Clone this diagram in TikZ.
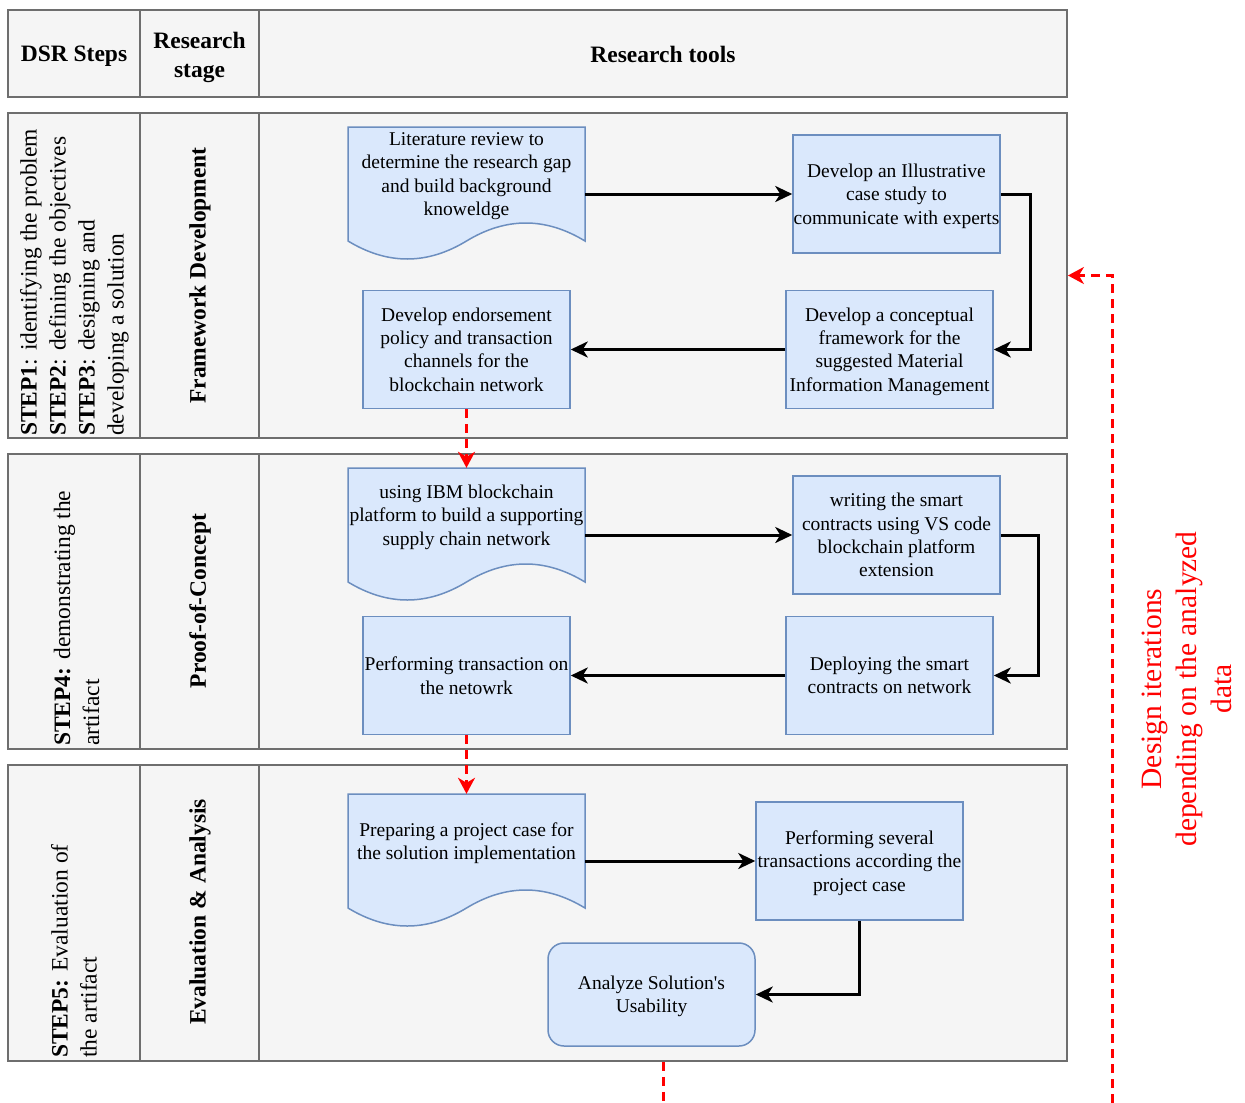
\documentclass[tikz,border=0pt]{standalone}
\usepackage{fontspec}
\setmainfont{Liberation Serif}
\usetikzlibrary{arrows.meta}

\definecolor{boxfill}{RGB}{218,232,252}
\definecolor{boxline}{RGB}{108,142,191}
\definecolor{rowfill}{RGB}{245,245,245}
\definecolor{rowline}{RGB}{110,110,110}
\definecolor{loopred}{RGB}{255,0,0}

% document-shaped process box: #1 name, #2 left, #3 top, #4 label
\newcommand\docbox[4]{%
  \begin{scope}[shift={(#2,#3)}]
    \path[procbox] (0,0) -- (237,0) -- (237,114)
      .. controls (197.5,90) and (158,90) .. (118.5,114)
      .. controls (79,138) and (39.5,138) .. (0,114) -- cycle;
    \node[inner sep=0, minimum width=237pt, minimum height=134pt] (#1) at (118.5,67) {};
    \node[boxtext] (#1-label) at (118.5,47) {#4};
  \end{scope}}

\tikzset{
  rowbox/.style={draw=rowline, fill=rowfill, line width=1.8pt, inner sep=0},
  colline/.style={draw=rowline, line width=1.8pt},
  procbox/.style={draw=boxline, fill=boxfill, line width=1.5pt},
  boxtext/.style={align=center, inner sep=0, text depth=0pt,
    font=\fontsize{19.5}{23.3}\selectfont},
  rectbox/.style={procbox, inner sep=0, minimum width=207pt, minimum height=118pt,
    align=center, text depth=0pt, font=\fontsize{19.5}{23.3}\selectfont},
  headtext/.style={align=center, inner sep=0, text depth=0pt,
    font=\fontsize{23.5}{29}\selectfont\bfseries},
  steptext/.style={rotate=90, align=left, inner sep=0, anchor=west,
    font=\fontsize{23.5}{29}\selectfont},
  stagetext/.style={rotate=90, align=center, inner sep=0,
    font=\fontsize{23.5}{29}\selectfont\bfseries},
  flow/.style={line width=3pt, -{Stealth[length=17pt, width=16pt, inset=5pt]}},
  loopline/.style={draw=loopred, line width=3pt, dash pattern=on 9pt off 6pt},
  looparrow/.style={loopline, -{Stealth[length=16pt, width=17pt, inset=5pt]}},
  looptext/.style={rotate=90, align=center, inner sep=0, text=loopred,
    font=\fontsize{29.5}{35}\selectfont},
}

\begin{document}
\begin{tikzpicture}[x=1pt, y=-1pt]
  \useasboundingbox[fill=white] (0,0) rectangle (1245,1103);

  % header row
  \node[rowbox, minimum width=1059pt, minimum height=87pt] (head) at (537.5,53.5) {};
  \draw[colline] (140,10) -- (140,97);
  \draw[colline] (259,10) -- (259,97);
  \node[headtext] (hsteps) at (74,54) {DSR Steps};
  \node[headtext] (hstage) at (199.5,54.5) {Research\\stage};
  \node[headtext] (htools) at (663,54) {Research tools};

  % stage rows
  \node[rowbox, minimum width=1059pt, minimum height=325pt] (row1) at (537.5,275.5) {};
  \node[rowbox, minimum width=1059pt, minimum height=295pt] (row2) at (537.5,601.5) {};
  \node[rowbox, minimum width=1059pt, minimum height=296pt] (row3) at (537.5,913) {};
  \foreach \ya/\yb in {113/438, 454/749, 765/1061} {
    \draw[colline] (140,\ya) -- (140,\yb);
    \draw[colline] (259,\ya) -- (259,\yb);
  }

  % DSR steps
  \node[steptext] (s1) at (74.5,436) {\textbf{STEP1}: identifying the problem\\
    \textbf{STEP2}: defining the objectives\\ \textbf{STEP3}: designing and\\ developing a solution};
  \node[steptext] (s4) at (76.5,746) {\textbf{STEP4:} demonstrating the\\ artifact};
  \node[steptext] (s5) at (74,1058) {\textbf{STEP5:} Evaluation of\\ the artifact};

  % research stages
  \node[stagetext] (st1) at (200,275.5) {Framework Development};
  \node[stagetext] (st2) at (200,601) {Proof-of-Concept};
  \node[stagetext] (st3) at (200,912) {Evaluation \& Analysis};

  % framework development
  \docbox{lit}{348}{127}{Literature review to\\ determine the research gap\\ and build background\\ knoweldge}
  \node[rectbox] (illus) at (896.5,194) {Develop an Illustrative\\ case study to\\ communicate with experts};
  \node[rectbox] (concept) at (889.5,349.5) {Develop a conceptual\\ framework for the\\ suggested Material\\ Information Management};
  \node[rectbox] (endorse) at (466.5,349.5) {Develop endorsement\\ policy and transaction\\ channels for the\\ blockchain network};

  % proof of concept
  \docbox{ibm}{348}{468}{using IBM blockchain\\ platform to build a supporting\\ supply chain network}
  \node[rectbox] (smart) at (896.5,535) {writing the smart\\ contracts using VS code\\ blockchain platform\\ extension};
  \node[rectbox] (deploy) at (889.5,675.5) {Deploying the smart\\ contracts on network};
  \node[rectbox] (perform) at (466.5,675.5) {Performing transaction on\\ the netowrk};

  % evaluation
  \docbox{prep}{348}{794}{Preparing a project case for\\ the solution implementation}
  \node[rectbox] (several) at (859.5,861) {Performing several\\ transactions according the\\ project case};
  \node[rectbox, rounded corners=16pt, minimum height=103pt] (usab) at (651.5,994.5) {Analyze Solution\textquotesingle s\\ Usability};

  % flow connectors
  \draw[flow] (lit.east) -- (illus.west);
  \draw[flow] (illus.east) -- ++(30,0) |- (concept.east);
  \draw[flow] (concept.west) -- (endorse.east);
  \draw[flow] (ibm.east) -- (smart.west);
  \draw[flow] (smart.east) -- ++(38,0) |- (deploy.east);
  \draw[flow] (deploy.west) -- (perform.east);
  \draw[flow] (prep.east) -- (several.west);
  \draw[flow] (several.south) |- (usab.east);

  % stage transitions
  \draw[looparrow] (endorse.south) -- (ibm.north);
  \draw[looparrow] (perform.south) -- (prep.north);

  % iteration loop (continues below the frame)
  \coordinate (usabout) at (663,1103);
  \coordinate (loopfoot) at (1112,1103);
  \draw[loopline] (row3.south -| usabout) -- (usabout);
  \draw[looparrow] (loopfoot) |- (row1.east);
  \node[looptext] (iter) at (1187,689) {Design iterations\\ depending on the analyzed\\ data};
\end{tikzpicture}
\end{document}
